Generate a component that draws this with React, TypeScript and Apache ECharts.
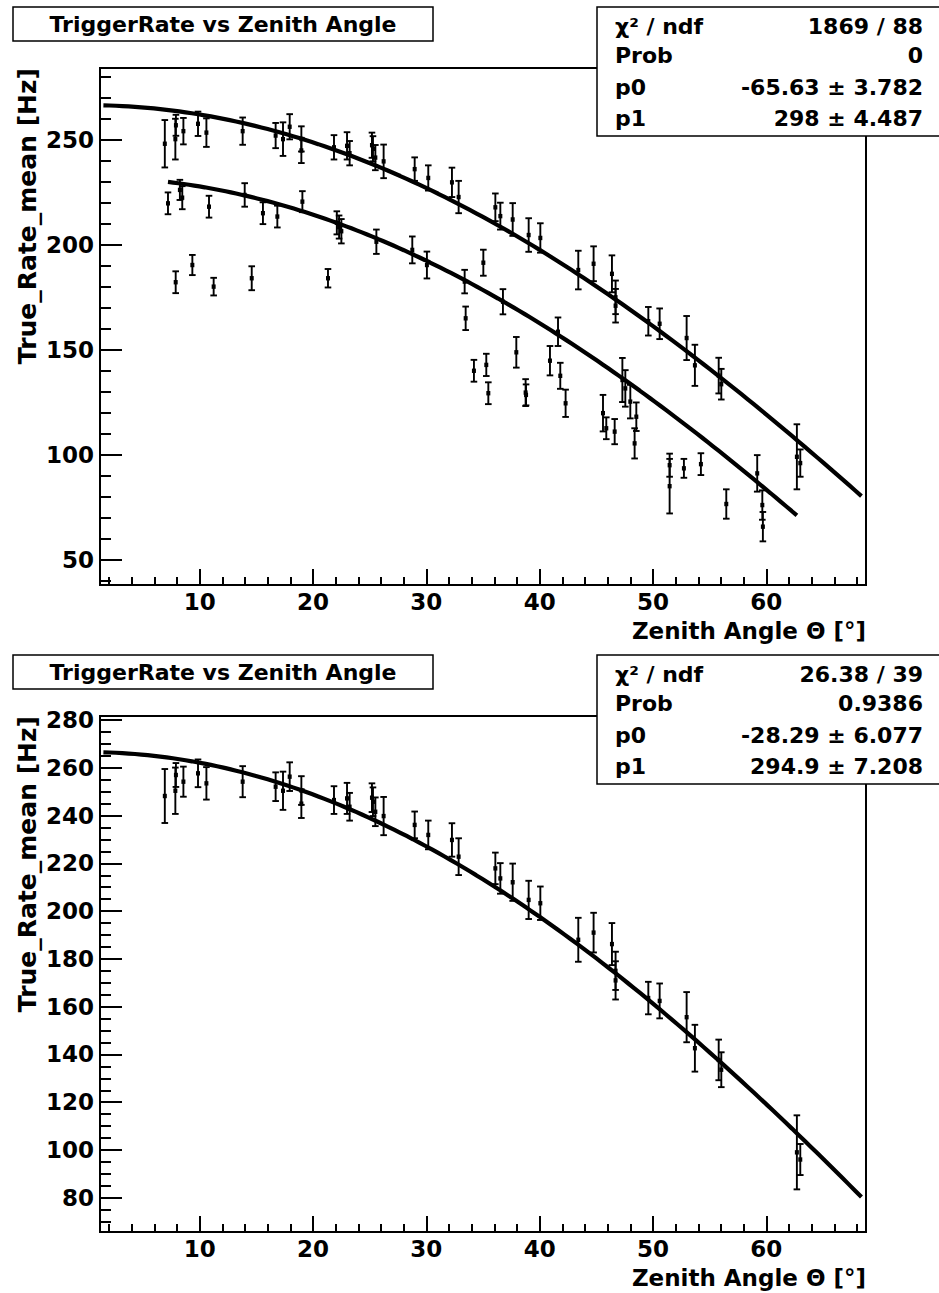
import React, { useEffect, useRef } from "react";
import * as echarts from "echarts";

// ---------- axis ranges ----------
const X_MIN = 1.2;
const X_MAX = 68.8;
const Y1_MIN = 37.9;
const Y1_MAX = 284.3;
const Y2_MIN = 65.65;
const Y2_MAX = 281.7;

// ---------- tick values ----------
const xMajorTicks = [10, 20, 30, 40, 50, 60];
const xMinorTicks = [2, 4, 6, 8, 12, 14, 16, 18, 22, 24, 26, 28, 32, 34, 36, 38, 42, 44, 46, 48, 52, 54, 56, 58, 62, 64, 66, 68];
const y1MajorTicks = [50, 100, 150, 200, 250];
const y1MinorTicks = [40, 60, 70, 80, 90, 110, 120, 130, 140, 160, 170, 180, 190, 210, 220, 230, 240, 260, 270, 280];
const y2MajorTicks = [80, 100, 120, 140, 160, 180, 200, 220, 240, 260, 280];
const y2MinorTicks = [70, 75, 85, 90, 95, 105, 110, 115, 125, 130, 135, 145, 150, 155, 165, 170, 175, 185, 190, 195, 205, 210, 215, 225, 230, 235, 245, 250, 255, 265, 270, 275];

// ---------- data: selected (upper) runs ----------
const upperTheta = [6.92, 7.85, 7.9, 8.56, 9.85, 10.59, 13.79, 16.7, 17.35, 17.94, 18.97, 18.97, 21.85, 23.0, 23.23, 25.2, 25.29, 25.5, 26.23, 28.97, 30.17, 32.26, 32.85, 36.09, 36.53, 37.62, 39.03, 40.06, 43.41, 44.76, 46.38, 46.7, 46.7, 49.59, 50.59, 52.97, 53.7, 55.8, 56.03, 62.7, 63.0];
const upperRate = [248.2, 250.4, 257, 254.2, 257.7, 253.5, 254.2, 252.1, 250.4, 256.3, 250.5, 245, 246.5, 247.2, 243.7, 247.5, 245.8, 241.6, 239.8, 236.1, 231.9, 229.8, 222.8, 217.9, 213.7, 212.1, 204.7, 203.3, 188, 191, 186.2, 175, 171, 163.6, 162.4, 155.6, 142.6, 137.7, 133.6, 99, 96];
const upperErr = [11.3, 9.7, 5, 6.3, 5.8, 6.8, 6.5, 6, 8, 6, 6, 6, 5.8, 6.5, 5.8, 6, 6, 6, 8, 5.6, 6, 7, 7.7, 6.6, 6.4, 7.8, 8, 7, 9.2, 8.3, 8.8, 8, 8, 6.8, 7.3, 10.5, 9.8, 8.5, 7.3, 15.5, 6.5];

// ---------- data: other (lower) runs, top panel only ----------
const lowerTheta = [7.2, 7.88, 8.25, 8.46, 9.35, 10.82, 11.23, 13.97, 14.59, 15.58, 16.85, 19.06, 21.32, 22.1, 22.3, 22.5, 25.59, 28.76, 30.05, 33.38, 33.47, 34.2, 35.03, 35.29, 35.47, 36.76, 37.94, 38.76, 38.8, 40.91, 41.62, 41.82, 42.29, 45.59, 45.88, 46.62, 47.3, 47.56, 48.0, 48.38, 48.53, 51.47, 51.47, 52.73, 54.23, 56.47, 59.2, 59.65, 59.7];
const lowerRate = [219.8, 182.2, 226.2, 222.5, 190.4, 218.2, 180.1, 223.8, 184.1, 215.1, 213.5, 220.6, 184.1, 210.5, 208.5, 206.5, 201.5, 197.6, 190.4, 182.5, 165, 140, 191.5, 142.8, 129.3, 172.9, 148.8, 129.6, 128.5, 144.8, 158.6, 137.6, 124.5, 119.8, 112.6, 111, 135.6, 131.6, 125.3, 105.4, 118.1, 95, 85, 93.5, 95.5, 76.5, 91.1, 76, 65.7];
const lowerErr = [5.2, 5.2, 4.8, 5.5, 4.8, 5.2, 4.2, 5.6, 5.7, 5.2, 5.2, 5, 4.4, 5.5, 5.5, 5.8, 5.8, 6.4, 6.4, 5.6, 5.6, 5.2, 6.2, 5.3, 5.2, 6, 7.3, 6.4, 5, 7, 6.8, 6.2, 6.5, 8.7, 5.2, 6, 10.5, 8.7, 8, 7.2, 6.8, 5.5, 13, 4.5, 5.2, 7, 8.7, 7, 7];

// ---------- fit results: f(theta) = p0 + p1 * cos(theta) ----------
const FIT_ALL_P0 = -65.63;
const FIT_ALL_P1 = 298;
const FIT_SEL_P0 = -28.29;
const FIT_SEL_P1 = 294.9;
const FIT_SEL_RANGE = [1.5, 68.4];
const FIT_ALL_RANGE = [7.2, 62.7];

// ---------- texts ----------
const TITLE = "TriggerRate vs Zenith Angle";
const X_TITLE = "Zenith Angle Θ [°]";
const Y_TITLE = "True_Rate_mean [Hz]";
const statLabels = ["χ² / ndf", "Prob", "p0", "p1"];
const stats1Values = ["1869 / 88", "0", "-65.63 ± 3.782", "298 ± 4.487"];
const stats2Values = ["26.38 / 39", "0.9386", "-28.29 ± 6.077", "294.9 ± 7.208"];

const FONT = "'DejaVu Sans', 'Liberation Sans', Arial, sans-serif";

function zip3(a: number[], b: number[], c: number[]) {
  return a.map((v, i) => [v, b[i], c[i]]);
}

function fitCurve(p0: number, p1: number, range: number[]) {
  const pts: number[][] = [];
  const n = 120;
  for (let i = 0; i <= n; i++) {
    const t = range[0] + ((range[1] - range[0]) * i) / n;
    pts.push([t, p0 + p1 * Math.cos((t * Math.PI) / 180)]);
  }
  return pts;
}

function errRender(params: any, api: any) {
  const x = api.value(0);
  const y = api.value(1);
  const e = api.value(2);
  const top = api.coord([x, y + e]);
  const bot = api.coord([x, y - e]);
  const c = api.coord([x, y]);
  const cap = 3.3;
  const st = { stroke: "#000", lineWidth: 1.9 };
  return {
    type: "group",
    children: [
      { type: "line", shape: { x1: top[0], y1: top[1], x2: bot[0], y2: bot[1] }, style: st },
      { type: "line", shape: { x1: top[0] - cap, y1: top[1], x2: top[0] + cap, y2: top[1] }, style: st },
      { type: "line", shape: { x1: bot[0] - cap, y1: bot[1], x2: bot[0] + cap, y2: bot[1] }, style: st },
      { type: "rect", shape: { x: c[0] - 2, y: c[1] - 2.2, width: 4, height: 4.4 }, style: { fill: "#000" } },
    ],
  };
}

const GRIDS = [
  { left: 100, top: 68, width: 766, height: 517 },
  { left: 100, top: 716, width: 766, height: 516 },
];

function xAxes(gridIndex: number) {
  return [
    {
      type: "value",
      gridIndex,
      min: X_MIN,
      max: X_MAX,
      position: "bottom",
      axisLine: { show: true, onZero: false, lineStyle: { color: "#000", width: 2 } },
      axisTick: { show: true, inside: true, length: 16, lineStyle: { color: "#000", width: 2 }, customValues: xMajorTicks },
      axisLabel: { show: true, customValues: xMajorTicks, color: "#000", fontFamily: FONT, fontWeight: "bold", fontSize: 23, margin: 5 },
      splitLine: { show: false },
    },
    {
      type: "value",
      gridIndex,
      min: X_MIN,
      max: X_MAX,
      position: "bottom",
      axisLine: { show: false, onZero: false },
      axisTick: { show: true, inside: true, length: 8, lineStyle: { color: "#000", width: 2 }, customValues: xMinorTicks },
      axisLabel: { show: false },
      splitLine: { show: false },
    },
  ];
}

function yAxes(gridIndex: number, min: number, max: number, major: number[], minor: number[]) {
  return [
    {
      type: "value",
      gridIndex,
      min,
      max,
      position: "left",
      axisLine: { show: true, onZero: false, lineStyle: { color: "#000", width: 2 } },
      axisTick: { show: true, inside: true, length: 22, lineStyle: { color: "#000", width: 2 }, customValues: major },
      axisLabel: { show: true, customValues: major, color: "#000", fontFamily: FONT, fontWeight: "bold", fontSize: 23, margin: 6 },
      splitLine: { show: false },
    },
    {
      type: "value",
      gridIndex,
      min,
      max,
      position: "left",
      axisLine: { show: false, onZero: false },
      axisTick: { show: true, inside: true, length: 11, lineStyle: { color: "#000", width: 2 }, customValues: minor },
      axisLabel: { show: false },
      splitLine: { show: false },
    },
  ];
}

function textEl(text: string, x: number, y: number, size: number, align: string, rotation = 0) {
  return {
    type: "text",
    x,
    y,
    rotation,
    z: 110,
    style: { text, fill: "#000", fontFamily: FONT, fontWeight: "bold", fontSize: size, align, verticalAlign: "middle" },
  };
}

function panelGraphics(titleTop: number, statsTop: number, values: string[], gridTop: number, gridBottom: number) {
  const els: any[] = [];
  // title box
  els.push({
    type: "rect",
    z: 100,
    shape: { x: 13, y: titleTop, width: 420, height: 34 },
    style: { fill: "#fff", stroke: "#000", lineWidth: 1.5 },
  });
  els.push(textEl(TITLE, 223, titleTop + 17, 22, "center"));
  // stats box
  els.push({
    type: "rect",
    z: 100,
    shape: { x: 597, y: statsTop, width: 345, height: 129 },
    style: { fill: "#fff", stroke: "#000", lineWidth: 1.5 },
  });
  const rowOff = [19, 48, 80, 111];
  statLabels.forEach((l, i) => {
    els.push(textEl(l, 615, statsTop + rowOff[i], 22, "left"));
    els.push(textEl(values[i], 923, statsTop + rowOff[i], 22, "right"));
  });
  // axis titles
  els.push(textEl(X_TITLE, 866, gridBottom + 46, 23, "right"));
  els.push(textEl(Y_TITLE, 27, gridTop, 25, "right", Math.PI / 2));
  return els;
}

export default function App() {
  const ref = useRef<HTMLDivElement>(null);
  useEffect(() => {
    if (!ref.current) return;
    const chart = echarts.init(ref.current, null, { renderer: "svg" });
    const option: any = {
      animation: false,
      backgroundColor: "#fff",
      grid: GRIDS.map((g) => ({ ...g, show: true, borderColor: "#000", borderWidth: 2, backgroundColor: "transparent", containLabel: false })),
      xAxis: [...xAxes(0), ...xAxes(1)],
      yAxis: [
        ...yAxes(0, Y1_MIN, Y1_MAX, y1MajorTicks, y1MinorTicks),
        ...yAxes(1, Y2_MIN, Y2_MAX, y2MajorTicks, y2MinorTicks),
      ],
      series: [
        {
          type: "custom",
          name: "selected runs",
          xAxisIndex: 0,
          yAxisIndex: 0,
          renderItem: errRender,
          encode: { x: 0, y: 1 },
          data: zip3(upperTheta, upperRate, upperErr),
          z: 5,
        },
        {
          type: "custom",
          name: "other runs",
          xAxisIndex: 0,
          yAxisIndex: 0,
          renderItem: errRender,
          encode: { x: 0, y: 1 },
          data: zip3(lowerTheta, lowerRate, lowerErr),
          z: 5,
        },
        {
          type: "line",
          name: "fit selected",
          xAxisIndex: 0,
          yAxisIndex: 0,
          showSymbol: false,
          symbol: "none",
          lineStyle: { color: "#000", width: 4.2 },
          data: fitCurve(FIT_SEL_P0, FIT_SEL_P1, FIT_SEL_RANGE),
          z: 6,
        },
        {
          type: "line",
          name: "fit all",
          xAxisIndex: 0,
          yAxisIndex: 0,
          showSymbol: false,
          symbol: "none",
          lineStyle: { color: "#000", width: 4.2 },
          data: fitCurve(FIT_ALL_P0, FIT_ALL_P1, FIT_ALL_RANGE),
          z: 6,
        },
        {
          type: "custom",
          name: "selected runs 2",
          xAxisIndex: 2,
          yAxisIndex: 2,
          renderItem: errRender,
          encode: { x: 0, y: 1 },
          data: zip3(upperTheta, upperRate, upperErr),
          z: 5,
        },
        {
          type: "line",
          name: "fit selected 2",
          xAxisIndex: 2,
          yAxisIndex: 2,
          showSymbol: false,
          symbol: "none",
          lineStyle: { color: "#000", width: 4.2 },
          data: fitCurve(FIT_SEL_P0, FIT_SEL_P1, FIT_SEL_RANGE),
          z: 6,
        },
      ],
      graphic: [
        ...panelGraphics(7, 7, stats1Values, 68, 585),
        ...panelGraphics(655, 655, stats2Values, 716, 1232),
      ],
    };
    chart.setOption(option);
    return () => chart.dispose();
  }, []);
  return (
    <div
      ref={ref}
      style={{ position: "absolute", left: 0, top: 0, width: 939, height: 1293, background: "#fff" }}
    />
  );
}
